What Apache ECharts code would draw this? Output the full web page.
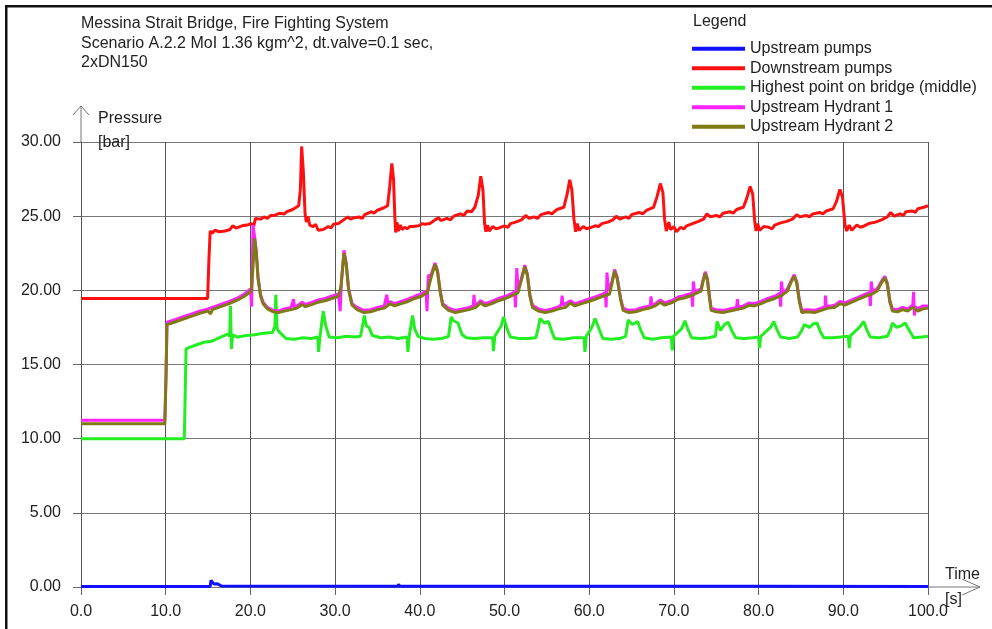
<!DOCTYPE html>
<html>
<head>
<meta charset="utf-8">
<script src="https://cdn.jsdelivr.net/npm/echarts@6/dist/echarts.min.js"></script>
<style>html,body{margin:0;padding:0;background:#fff}#main{width:992px;height:629px}</style>
</head>
<body>
<div id="main"></div>
<script>
const FONT = '"Liberation Sans", Arial, sans-serif';
const titleLines = ['Messina Strait Bridge, Fire Fighting System', 'Scenario A.2.2 MoI 1.36 kgm^2, dt.valve=0.1 sec,', '2xDN150'];
const seriesNames = ['Upstream pumps', 'Downstream pumps', 'Highest point on bridge (middle)', 'Upstream Hydrant 1', 'Upstream Hydrant 2'];
const xRange = [0, 100, 10];
const yRange = [0, 30, 5];

const upT = [0, 15.25, 15.35, 15.55, 15.7, 15.9, 16.1, 16.3, 16.6, 37.45, 37.5, 37.6, 48.0, 48.05, 48.15, 69.45, 69.5, 69.6, 80.4, 80.45, 80.55, 100];
const upV = [0.04, 0.04, 0.45, 0.35, 0.2, 0.15, 0.22, 0.1, 0.06, 0.05, 0.2, 0.05, 0.05, 0.18, 0.05, 0.05, 0.18, 0.05, 0.05, 0.15, 0.05, 0.04];

const downT = [0, 14.95, 15.1, 15.25, 15.5, 15.8, 16.3, 17.0, 17.6, 17.9, 18.3, 19.0, 19.6, 20.1, 20.4, 20.6, 21.2, 21.6, 22.0, 22.4, 22.8, 23.5, 24.0, 24.3, 25.0, 25.7, 25.9, 26.05, 26.25, 26.45, 26.6, 26.8, 27.0, 27.4, 27.7, 28.0, 28.6, 29.2, 29.5, 29.8, 30.4, 31.0, 31.5, 31.8, 32.3, 32.8, 33.2, 33.5, 34.3, 34.6, 35.0, 35.7, 36.2, 36.45, 36.7, 36.9, 37.05, 37.15, 37.3, 37.45, 37.7, 37.9, 38.2, 38.5, 38.8, 39.2, 39.9, 40.3, 40.6, 41.2, 41.8, 42.2, 42.5, 43.2, 43.6, 44.0, 44.8, 45.2, 45.6, 46.1, 46.5, 46.9, 47.2, 47.45, 47.65, 47.8, 48.0, 48.2, 48.6, 49.0, 49.3, 50.0, 50.4, 50.7, 51.3, 52.0, 52.5, 52.9, 53.5, 53.9, 54.3, 55.2, 55.6, 56.2, 57.0, 57.4, 57.7, 57.95, 58.2, 58.4, 58.6, 58.8, 59.3, 59.7, 60.0, 60.7, 61.1, 61.5, 62.2, 62.8, 63.2, 63.6, 64.3, 64.7, 65.0, 65.9, 66.3, 66.8, 67.6, 68.0, 68.4, 68.7, 68.9, 69.1, 69.4, 69.6, 70.0, 70.3, 70.8, 71.2, 71.5, 72.2, 72.9, 73.5, 73.9, 74.3, 75.0, 75.4, 75.8, 76.6, 77.0, 77.4, 78.2, 78.6, 79.0, 79.3, 79.55, 79.7, 79.9, 80.1, 80.6, 81.2, 81.6, 81.9, 82.6, 83.3, 84.0, 84.5, 84.9, 85.6, 86.0, 86.4, 87.2, 87.6, 88.0, 88.8, 89.2, 89.6, 89.9, 90.2, 90.4, 90.7, 91.0, 91.6, 92.0, 92.3, 93.0, 93.8, 94.5, 95.2, 95.6, 96.0, 96.7, 97.1, 97.4, 98.1, 98.5, 98.8, 99.5, 100];
const downV = [19.45, 19.45, 22.0, 24.0, 23.85, 24.05, 23.95, 24.0, 24.1, 24.35, 24.2, 24.35, 24.4, 24.5, 24.35, 24.85, 24.8, 24.95, 24.85, 25.05, 25.05, 25.2, 25.15, 25.3, 25.45, 25.7, 26.8, 29.7, 28.0, 25.2, 24.6, 25.0, 24.4, 24.3, 24.45, 24.05, 24.1, 24.3, 24.2, 24.45, 24.5, 24.75, 24.95, 24.8, 24.9, 24.95, 24.85, 25.1, 25.3, 25.2, 25.4, 25.55, 25.7, 27.0, 28.55, 27.5, 25.0, 23.9, 24.6, 24.0, 24.4, 24.1, 24.25, 24.15, 24.3, 24.3, 24.35, 24.5, 24.45, 24.5, 24.75, 24.9, 24.7, 24.85, 24.75, 25.0, 25.15, 25.05, 25.35, 25.3, 25.6, 26.4, 27.7, 26.8, 24.5, 23.95, 24.4, 24.0, 24.3, 24.15, 24.2, 24.35, 24.25, 24.5, 24.6, 24.75, 25.05, 24.85, 24.95, 24.85, 25.1, 25.25, 25.15, 25.45, 25.6, 26.5, 27.45, 26.8, 24.8, 23.95, 24.5, 24.05, 24.3, 24.15, 24.2, 24.35, 24.3, 24.5, 24.6, 24.75, 25.0, 24.8, 24.95, 24.85, 25.1, 25.25, 25.15, 25.4, 25.6, 26.3, 27.2, 26.6, 24.8, 24.0, 24.6, 24.1, 24.3, 23.95, 24.25, 24.15, 24.35, 24.5, 24.65, 24.8, 25.15, 24.95, 25.05, 24.95, 25.2, 25.3, 25.2, 25.45, 25.6, 26.2, 27.0, 26.5, 24.6, 24.0, 24.5, 24.05, 24.3, 24.25, 24.15, 24.4, 24.55, 24.65, 24.8, 25.1, 24.95, 25.05, 24.95, 25.15, 25.25, 25.15, 25.35, 25.5, 26.0, 26.8, 26.3, 24.4, 24.0, 24.4, 24.05, 24.4, 24.25, 24.3, 24.5, 24.6, 24.75, 24.95, 25.25, 25.0, 25.15, 25.05, 25.3, 25.35, 25.25, 25.5, 25.6, 25.7];

const highT = [0, 12.2, 12.3, 12.4, 13.5, 14.5, 15.3, 15.5, 16.5, 17.3, 17.55, 17.65, 17.75, 17.9, 18.5, 19.5, 20.5, 21.5, 22.6, 22.9, 23.0, 23.15, 23.4, 24.2, 25.2, 26.2, 27.2, 27.95, 28.05, 28.2, 28.6, 28.9, 29.3, 30.3, 31.3, 32.3, 33.0, 33.3, 33.45, 33.7, 34.0, 34.4, 35.4, 36.4, 37.4, 38.5, 38.6, 38.75, 39.15, 39.4, 39.8, 40.6, 41.6, 42.6, 43.4, 43.7, 44.0, 44.5, 45.0, 45.5, 46.5, 47.5, 48.6, 48.7, 48.85, 49.6, 49.9, 50.3, 50.7, 51.7, 52.7, 53.7, 54.0, 54.2, 54.7, 55.2, 55.6, 55.9, 57.0, 58.2, 59.4, 59.5, 59.65, 60.3, 60.7, 61.1, 61.6, 62.6, 63.6, 64.3, 64.6, 65.1, 65.7, 66.1, 66.5, 67.5, 68.5, 69.7, 69.8, 69.95, 70.9, 71.3, 71.7, 72.1, 73.1, 74.1, 74.9, 75.1, 75.5, 76.0, 76.4, 76.9, 77.3, 78.3, 79.3, 80.0, 80.1, 80.25, 81.4, 81.8, 82.2, 82.6, 83.6, 84.6, 85.1, 85.4, 86.0, 86.5, 86.9, 87.3, 87.7, 88.7, 89.7, 90.6, 90.7, 90.85, 91.9, 92.4, 92.8, 93.2, 94.2, 95.2, 95.6, 95.8, 96.3, 96.8, 97.3, 97.8, 98.3, 99.3, 100];
const highV = [10.0, 10.0, 13.0, 16.05, 16.3, 16.5, 16.55, 16.6, 16.85, 17.05, 16.9, 18.95, 16.05, 17.0, 16.85, 16.95, 17.0, 17.1, 17.15, 17.6, 19.7, 17.4, 17.2, 16.75, 16.7, 16.8, 16.75, 16.85, 15.85, 16.8, 18.6, 17.6, 16.85, 16.8, 16.9, 16.85, 16.9, 17.8, 18.3, 17.6, 17.5, 16.95, 16.8, 16.85, 16.75, 16.85, 15.85, 16.9, 18.3, 17.4, 16.9, 16.75, 16.7, 16.75, 16.9, 18.2, 17.95, 17.8, 17.0, 16.8, 16.75, 16.8, 16.8, 15.9, 16.9, 17.6, 18.2, 17.4, 16.85, 16.75, 16.75, 16.8, 17.5, 18.1, 17.8, 17.9, 17.2, 16.75, 16.7, 16.8, 16.8, 15.85, 16.9, 17.5, 18.1, 17.5, 16.75, 16.7, 16.75, 16.9, 18.0, 17.7, 17.9, 17.3, 16.8, 16.7, 16.8, 16.85, 15.95, 16.9, 17.4, 17.95, 17.3, 16.8, 16.75, 16.8, 16.9, 17.9, 17.3, 17.7, 17.85, 17.2, 16.8, 16.75, 16.8, 16.85, 16.1, 16.9, 17.5, 17.9, 17.3, 16.85, 16.75, 16.85, 17.3, 17.7, 17.5, 17.75, 17.8, 17.2, 16.8, 16.8, 16.85, 16.9, 16.1, 16.95, 17.5, 17.9, 17.3, 16.85, 16.8, 16.9, 17.4, 17.8, 17.5, 17.6, 17.8, 17.3, 16.8, 16.85, 16.9];

const hyd1T = [0, 9.9, 10.05, 10.15, 11.0, 12.0, 13.0, 14.0, 15.0, 15.5, 16.5, 17.5, 18.5, 19.3, 20.0, 20.15, 20.3, 20.5, 20.7, 20.9, 21.2, 21.5, 22.0, 22.7, 23.3, 24.0, 24.8, 25.1, 25.2, 25.5, 26.1, 26.5, 27.3, 28.0, 28.8, 29.6, 30.4, 30.6, 30.75, 31.05, 31.3, 31.6, 32.0, 32.6, 33.4, 34.2, 35.0, 35.8, 36.1, 36.25, 36.5, 37.0, 37.8, 38.6, 39.4, 40.2, 40.75, 40.85, 41.0, 41.3, 41.8, 42.1, 42.4, 42.7, 43.4, 44.2, 45.0, 45.8, 46.3, 46.4, 46.5, 47.2, 47.7, 48.5, 49.3, 50.1, 50.9, 51.2, 51.3, 51.45, 51.6, 52.0, 52.4, 52.7, 53.0, 53.3, 54.0, 54.8, 55.6, 56.4, 56.7, 56.8, 56.9, 57.8, 58.3, 59.1, 59.9, 60.7, 61.6, 61.9, 62.0, 62.1, 62.25, 62.4, 62.7, 63.0, 63.3, 63.7, 64.0, 64.7, 65.5, 66.3, 67.2, 67.3, 67.4, 67.8, 68.4, 68.9, 69.7, 70.5, 71.3, 72.1, 72.2, 72.3, 72.45, 72.8, 73.2, 73.45, 73.7, 73.95, 74.2, 74.4, 75.0, 75.8, 76.6, 77.4, 77.5, 77.6, 78.2, 78.9, 79.5, 80.3, 81.1, 81.9, 82.5, 82.6, 82.7, 82.85, 83.4, 83.8, 84.2, 84.5, 84.8, 85.1, 85.8, 86.6, 87.4, 87.85, 87.9, 88.0, 88.2, 89.0, 89.6, 90.2, 91.0, 91.8, 92.6, 93.1, 93.2, 93.3, 93.45, 94.0, 94.5, 94.9, 95.2, 95.5, 95.8, 96.4, 97.0, 97.6, 98.2, 98.3, 98.4, 98.5, 98.8, 99.4, 100];
const hyd1V = [11.25, 11.25, 14.6, 17.85, 18.0, 18.2, 18.4, 18.6, 18.75, 18.85, 19.05, 19.25, 19.5, 19.75, 20.1, 18.9, 24.4, 23.6, 22.6, 20.9, 19.7, 19.2, 18.85, 18.65, 18.6, 18.75, 18.85, 19.4, 18.85, 18.95, 19.2, 19.05, 19.2, 19.35, 19.45, 19.6, 19.75, 18.6, 20.6, 22.7, 21.9, 20.1, 19.1, 18.85, 18.65, 18.7, 18.85, 18.95, 19.7, 19.0, 19.25, 19.1, 19.25, 19.4, 19.6, 19.75, 19.95, 18.6, 21.0, 21.0, 21.85, 21.3, 20.0, 19.1, 18.8, 18.65, 18.75, 18.85, 18.95, 19.7, 18.95, 19.3, 19.1, 19.25, 19.45, 19.6, 19.8, 19.9, 18.85, 21.5, 20.1, 20.8, 21.7, 21.1, 19.7, 19.0, 18.75, 18.65, 18.75, 18.9, 19.0, 19.65, 19.0, 19.3, 19.1, 19.25, 19.4, 19.55, 19.75, 19.85, 18.85, 21.2, 20.0, 19.9, 20.6, 21.4, 20.9, 19.5, 18.8, 18.65, 18.7, 18.85, 18.95, 19.6, 18.95, 19.1, 19.35, 19.15, 19.3, 19.55, 19.65, 19.8, 18.9, 20.6, 19.85, 20.0, 20.1, 20.7, 21.25, 20.8, 19.6, 18.8, 18.7, 18.65, 18.75, 18.85, 19.4, 18.85, 18.95, 19.15, 19.1, 19.25, 19.45, 19.6, 19.8, 18.9, 20.6, 19.85, 20.1, 20.6, 21.05, 20.6, 19.4, 18.65, 18.7, 18.65, 18.8, 18.9, 19.65, 18.9, 18.95, 19.0, 19.25, 19.15, 19.35, 19.55, 19.75, 19.85, 18.95, 20.6, 19.9, 20.1, 20.6, 20.95, 20.5, 19.3, 18.75, 18.7, 18.85, 18.75, 19.0, 19.9, 18.3, 18.9, 18.75, 18.95, 18.95];

const hyd2T = [0, 9.9, 10.05, 10.15, 11.0, 12.0, 13.0, 14.0, 15.0, 15.3, 15.5, 16.5, 17.5, 18.5, 19.3, 20.1, 20.3, 20.5, 20.7, 20.9, 21.2, 21.5, 22.0, 22.7, 23.3, 24.0, 24.8, 25.5, 26.1, 26.5, 27.3, 28.0, 28.8, 29.6, 30.4, 30.7, 31.05, 31.3, 31.6, 32.0, 32.6, 33.4, 34.2, 35.0, 35.8, 36.5, 37.0, 37.8, 38.6, 39.4, 40.2, 40.9, 41.3, 41.8, 42.1, 42.4, 42.7, 43.4, 44.2, 45.0, 45.8, 46.6, 47.2, 47.7, 48.5, 49.3, 50.1, 50.9, 51.6, 52.0, 52.4, 52.7, 53.0, 53.3, 54.0, 54.8, 55.6, 56.4, 57.2, 57.8, 58.3, 59.1, 59.9, 60.7, 61.6, 62.4, 62.7, 63.0, 63.3, 63.7, 64.0, 64.7, 65.5, 66.3, 67.1, 67.8, 68.4, 68.9, 69.7, 70.5, 71.3, 72.1, 72.8, 73.2, 73.45, 73.7, 73.95, 74.2, 74.4, 75.0, 75.8, 76.6, 77.4, 78.2, 78.9, 79.5, 80.3, 81.1, 81.9, 82.7, 83.4, 83.8, 84.2, 84.5, 84.8, 85.1, 85.8, 86.6, 87.4, 88.2, 89.0, 89.6, 90.2, 91.0, 91.8, 92.6, 93.4, 94.0, 94.5, 94.9, 95.2, 95.5, 95.8, 96.4, 97.0, 97.6, 98.2, 98.8, 99.4, 100];
const hyd2V = [11.0, 11.0, 14.5, 17.7, 17.85, 18.05, 18.25, 18.45, 18.6, 18.4, 18.7, 18.9, 19.1, 19.35, 19.6, 19.95, 21.5, 23.5, 22.5, 20.8, 19.6, 19.1, 18.75, 18.55, 18.5, 18.6, 18.7, 18.8, 19.05, 18.9, 19.05, 19.2, 19.3, 19.45, 19.6, 20.3, 22.5, 21.8, 20.0, 19.0, 18.7, 18.5, 18.55, 18.7, 18.8, 19.1, 18.95, 19.1, 19.25, 19.45, 19.6, 19.85, 20.8, 21.75, 21.2, 19.9, 19.0, 18.65, 18.5, 18.6, 18.7, 18.85, 19.15, 18.95, 19.1, 19.3, 19.45, 19.65, 19.85, 20.7, 21.6, 21.0, 19.6, 18.85, 18.6, 18.5, 18.6, 18.75, 18.85, 19.15, 18.95, 19.1, 19.25, 19.4, 19.6, 19.75, 20.5, 21.3, 20.8, 19.4, 18.65, 18.5, 18.55, 18.7, 18.8, 18.95, 19.2, 19.0, 19.15, 19.4, 19.5, 19.65, 19.85, 19.95, 20.6, 21.15, 20.7, 19.5, 18.65, 18.55, 18.5, 18.6, 18.7, 18.8, 19.0, 18.95, 19.1, 19.3, 19.45, 19.65, 19.95, 20.5, 20.95, 20.5, 19.3, 18.5, 18.55, 18.5, 18.65, 18.8, 18.85, 19.1, 19.0, 19.2, 19.4, 19.6, 19.75, 19.95, 20.5, 20.85, 20.4, 19.2, 18.6, 18.55, 18.7, 18.6, 18.85, 18.6, 18.75, 18.8];

const seriesColors = ['#1010ff', '#ff1010', '#22ee22', '#ff22ff', '#7f7a12'];

function zip(t, v) { return t.map((x, i) => [x, v[i]]); }
const seriesData = [zip(upT, upV), zip(downT, downV), zip(highT, highV), zip(hyd1T, hyd1V), zip(hyd2T, hyd2V)];

const chart = echarts.init(document.getElementById('main'), null, { renderer: 'canvas' });
const txt = { fontFamily: FONT, fontSize: 16, color: '#222' };

const option = {
  animation: false,
  backgroundColor: '#fff',
  title: {
    text: titleLines.join('\n'), left: 81, top: 14, padding: 0,
    textStyle: Object.assign({}, txt, { fontWeight: 'normal', lineHeight: 19.5 })
  },
  legend: {
    orient: 'vertical', left: 692, top: 39, padding: 0,
    itemWidth: 53, itemHeight: 4, itemGap: 0, icon: 'rect',
    textStyle: Object.assign({}, txt, { lineHeight: 19.5 }),
    data: seriesNames
  },
  grid: { left: 81, right: 64, top: 142, bottom: 42, containLabel: false },
  xAxis: {
    type: 'value', min: xRange[0], max: xRange[1], interval: xRange[2],
    name: 'Time\n[s]', nameLocation: 'end', nameGap: 17, nameMoveOverlap: false,
    nameTextStyle: Object.assign({}, txt, { align: 'left', verticalAlign: 'middle', lineHeight: 25, padding: [16, 0, 0, 0] }),
    axisLine: { show: true, lineStyle: { color: '#777', width: 1 } },
    axisTick: { show: true, length: 8, lineStyle: { color: '#666' } },
    axisLabel: Object.assign({}, txt, { margin: 17, formatter: v => v.toFixed(1) }),
    splitLine: { show: true, lineStyle: { color: '#555', width: 1 } }
  },
  yAxis: {
    type: 'value', min: yRange[0], max: yRange[1], interval: yRange[2],
    name: 'Pressure\n[bar]', nameLocation: 'end', nameGap: 11, nameMoveOverlap: false,
    nameTextStyle: Object.assign({}, txt, { align: 'left', verticalAlign: 'middle', lineHeight: 24, padding: [0, 0, 0, 17] }),
    axisLine: { show: true, lineStyle: { color: '#555', width: 1 } },
    axisTick: { show: true, length: 8, lineStyle: { color: '#666' } },
    axisLabel: Object.assign({}, txt, { margin: 20, formatter: v => v.toFixed(2) }),
    splitLine: { show: true, lineStyle: { color: '#777', width: 1 } }
  },
  series: seriesNames.map((n, i) => ({
    name: n, type: 'line', data: seriesData[i], showSymbol: false, symbol: 'none',
    sampling: null, z: 3 + i,
    lineStyle: { color: seriesColors[i], width: 3 },
    itemStyle: { color: seriesColors[i] }
  }))
};
chart.setOption(option);

const pTop = chart.convertToPixel({ gridIndex: 0 }, [xRange[0], yRange[1]]);
const pEnd = chart.convertToPixel({ gridIndex: 0 }, [xRange[1], yRange[0]]);
const arrowStyle = { stroke: '#777', lineWidth: 1, fill: null };
chart.setOption({
  graphic: [
    { type: 'rect', shape: { x: 5, y: 5, width: 987, height: 2.5 }, style: { fill: '#111' }, silent: true },
    { type: 'rect', shape: { x: 5, y: 5, width: 2.5, height: 624 }, style: { fill: '#111' }, silent: true },
    { type: 'text', left: 693, top: 14, style: { text: 'Legend', font: '16px ' + FONT, fill: '#222' } },
    { type: 'polyline', shape: { points: [[pTop[0], pTop[1]], [pTop[0], pTop[1] - 36]] }, style: arrowStyle },
    { type: 'polyline', shape: { points: [[pTop[0] - 8, pTop[1] - 27], [pTop[0], pTop[1] - 36], [pTop[0] + 8, pTop[1] - 27]] }, style: arrowStyle },
    { type: 'polyline', shape: { points: [[pEnd[0], pEnd[1]], [pEnd[0] + 52, pEnd[1]]] }, style: arrowStyle },
    { type: 'polyline', shape: { points: [[pEnd[0] + 34, pEnd[1] - 8], [pEnd[0] + 52, pEnd[1]], [pEnd[0] + 34, pEnd[1] + 8]] }, style: arrowStyle }
  ]
});
</script>
</body>
</html>
